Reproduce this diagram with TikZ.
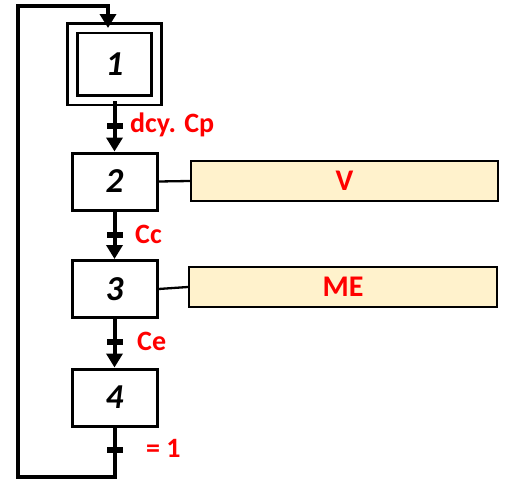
\documentclass[tikz,border=0pt]{standalone}
\usepackage{fontspec}
\setmainfont{Carlito}
\usetikzlibrary{arrows.meta,positioning,calc}
\definecolor{actfill}{HTML}{FFF2CC}
\begin{document}
\begin{tikzpicture}[x=1pt,y=1pt,
  stepbox/.style={draw,line width=3pt,minimum width=85pt,minimum height=57pt,inner sep=0pt,
    font=\fontsize{35}{35}\selectfont\bfseries\itshape},
  initstep/.style={stepbox,minimum width=84pt,minimum height=72pt,double,double distance=7pt,line width=2.7pt},
  actbox/.style={draw,line width=2.3pt,fill=actfill,minimum width=307pt,minimum height=40pt,inner sep=0pt,
    text=red,font=\fontsize{30}{30}\selectfont\bfseries},
  flow/.style={line width=4pt},
  flowarr/.style={flow,-{Triangle[width=16pt,length=14pt]}},
  tbar/.style={fill=black,minimum width=16pt,minimum height=6.5pt,inner sep=0pt},
  tlabel/.style={text=red,anchor=west,inner sep=0pt,font=\fontsize{28}{28}\selectfont\bfseries},
  link/.style={line width=2.3pt}]
\useasboundingbox (0,0) rectangle (507,-479);

% steps
\node[initstep] (s1) at (114.5,-64) {1};
\node[stepbox] (s2) at (114.5,-181.5) {2};
\node[stepbox] (s3) at (114.5,-289) {3};
\node[stepbox] (s4) at (114.5,-397.5) {4};

% actions
\node[actbox] (a2) at (344.5,-181) {V};
\node[actbox,minimum width=308pt] (a3) at (343,-287) {ME};
\draw[link] (s2.east) -- (a2.west);
\draw[link] (s3.east) -- (a3.west);

% transitions
\coordinate (t1) at (114.5,-126);
\coordinate (t2) at (114.5,-235);
\coordinate (t3) at (114.5,-342);
\coordinate (t4) at (114.5,-450);

\draw[flowarr] (s1.south) -- (s2.north);
\draw[flowarr] (s2.south) -- (s3.north);
\draw[flowarr] (s3.south) -- (s4.north);

\node[tbar] (b1) at (t1) {};
\node[tbar] (b2) at (t2) {};
\node[tbar] (b3) at (t3) {};
\node[tbar] (b4) at (t4) {};

\node[tlabel] (l1) at (130,-125) {dcy. Cp};
\node[tlabel] (l2) at (135,-234) {Cc};
\node[tlabel] (l3) at (137,-341) {Ce};
\node[tlabel] (l4) at (146,-448) {= 1};

% loop back to the initial step
\coordinate (c1) at (114.5,-477);
\coordinate (c2) at (18,-477);
\coordinate (c3) at (18,-6);
\coordinate (c4) at (108,-6);
\coordinate (c5) at (108,-28);
\draw[flowarr,line join=miter] (s4.south) -- (c1) -- (c2) -- (c3) -- (c4) -- (c5);
\end{tikzpicture}
\end{document}
